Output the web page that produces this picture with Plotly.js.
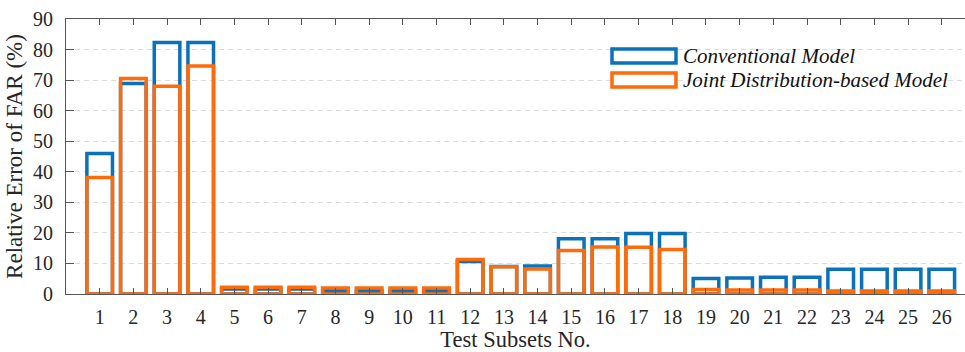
<!DOCTYPE html>
<html>
<head>
<meta charset="utf-8">
<script src="https://cdn.plot.ly/plotly-3.0.1.min.js"></script>
<style>html,body{margin:0;padding:0;background:#fff;}#chart{width:965px;height:352px;}</style>
</head>
<body>
<div id="chart"></div>
<script>
const subsets = [1,2,3,4,5,6,7,8,9,10,11,12,13,14,15,16,17,18,19,20,21,22,23,24,25,26];
const conventional = [46,68.9,82.3,82.3,1.6,1.6,1.6,1.1,1.1,1.1,1.1,10.6,9.0,9.2,18.1,18.1,19.8,19.8,5.1,5.2,5.5,5.5,8.1,8.1,8.1,8.1];
const jointDist = [38.1,70.5,68.0,74.6,2.2,2.2,2.2,2.0,2.0,2.0,2.0,11.3,8.9,8.2,14.2,15.4,15.3,14.6,1.5,1.3,1.3,1.3,1.0,1.0,1.0,1.0];
const seriesNames = ['Conventional Model','Joint Distribution-based Model'];
const yTicks = [0,10,20,30,40,50,60,70,80,90];
const xTitle = 'Test Subsets No.';
const yTitle = 'Relative Error of FAR (%)';

const blue = '#0a72ba';
const orange = '#ff6a0a';
const font = 'Liberation Serif';

const traces = [
  {type:'bar', x:subsets, y:conventional, name:seriesNames[0], width:0.76,
   marker:{color:'rgba(0,0,0,0)', line:{color:blue, width:3.5}}},
  {type:'bar', x:subsets, y:jointDist, name:seriesNames[1], width:0.76,
   marker:{color:'rgba(0,0,0,0)', line:{color:orange, width:3.5}}}
];

const layout = {
  width:965, height:352,
  margin:{l:66, r:0, t:19, b:58},
  paper_bgcolor:'#fff', plot_bgcolor:'#fff',
  barmode:'overlay', showlegend:false,
  font:{family:font, color:'#262626', size:20},
  xaxis:{
    range:[0, 26.69], tickvals:subsets, ticktext:subsets.map(String),
    ticks:'inside', ticklen:6, tickcolor:'#555', tickwidth:1,
    showline:true, linecolor:'#555', linewidth:1, mirror:'ticks',
    showgrid:false, zeroline:false,
    tickfont:{family:font, size:20, color:'#262626'},
    ticklabelstandoff:5,
    title:{text:xTitle, font:{family:font, size:22.5, color:'#262626'}, standoff:3}
  },
  yaxis:{
    range:[0,90], tickvals:yTicks,
    ticks:'inside', ticklen:8, tickcolor:'#555', tickwidth:1,
    showline:true, linecolor:'#555', linewidth:1, mirror:false,
    showgrid:true, gridcolor:'#dcdcdc', griddash:'5px,4px', gridwidth:1,
    zeroline:false,
    tickfont:{family:font, size:20, color:'#262626'},
    ticklabelstandoff:8,
    title:{text:yTitle, font:{family:font, size:23, color:'#262626'}, standoff:3}
  },
  shapes:[
    {type:'rect', xref:'paper', yref:'paper', x0:(612-66)/899, x1:(676-66)/899, y0:(294-63)/275, y1:(294-49)/275,
     line:{color:blue, width:3.5}, fillcolor:'#fff'},
    {type:'rect', xref:'paper', yref:'paper', x0:(612-66)/899, x1:(676-66)/899, y0:(294-87)/275, y1:(294-73)/275,
     line:{color:orange, width:3.5}, fillcolor:'#fff'}
  ],
  annotations:[
    {xref:'paper', yref:'paper', x:(681-66)/899, y:(294-56)/275, xanchor:'left', yanchor:'middle', showarrow:false,
     text:'<i>'+seriesNames[0]+'</i>', font:{family:font, size:21, color:'#111'}},
    {xref:'paper', yref:'paper', x:(681-66)/899, y:(294-80)/275, xanchor:'left', yanchor:'middle', showarrow:false,
     text:'<i>'+seriesNames[1]+'</i>', font:{family:font, size:21, color:'#111'}}
  ]
};

Plotly.newPlot('chart', traces, layout, {displayModeBar:false, staticPlot:true});
</script>
</body>
</html>
